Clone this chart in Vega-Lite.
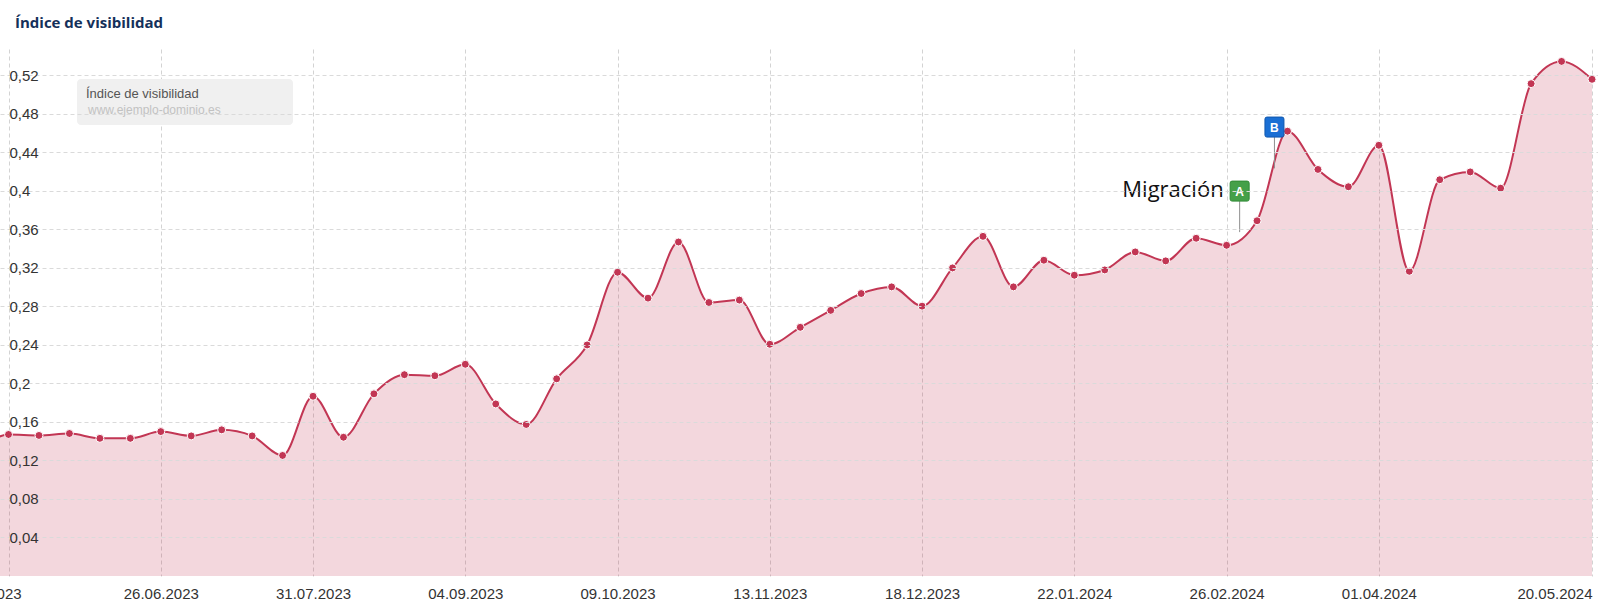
{
  "$schema": "https://vega.github.io/schema/vega-lite/v6.json",
  "width": 1598,
  "height": 527,
  "autosize": {"type": "none"},
  "padding": {"left": 0, "top": 49, "right": 0, "bottom": 31},
  "background": "white",
  "config": {"view": {"stroke": null}, "font": "Liberation Sans"},
  "title": {
    "text": "Índice de visibilidad",
    "anchor": "start",
    "frame": "group",
    "dx": 15,
    "offset": 6,
    "baseline": "alphabetic",
    "font": "Open Sans",
    "fontSize": 15,
    "fontWeight": 700,
    "color": "#14305a"
  },
  "datasets": {
    "serie": [
      {"fecha": "2023-05-15", "valor": 0.128, "serie": "www.ejemplo-dominio.es"},
      {"fecha": "2023-05-22", "valor": 0.147, "serie": "www.ejemplo-dominio.es"},
      {"fecha": "2023-05-29", "valor": 0.146, "serie": "www.ejemplo-dominio.es"},
      {"fecha": "2023-06-05", "valor": 0.148, "serie": "www.ejemplo-dominio.es"},
      {"fecha": "2023-06-12", "valor": 0.143, "serie": "www.ejemplo-dominio.es"},
      {"fecha": "2023-06-19", "valor": 0.143, "serie": "www.ejemplo-dominio.es"},
      {"fecha": "2023-06-26", "valor": 0.150, "serie": "www.ejemplo-dominio.es"},
      {"fecha": "2023-07-03", "valor": 0.1455, "serie": "www.ejemplo-dominio.es"},
      {"fecha": "2023-07-10", "valor": 0.1518, "serie": "www.ejemplo-dominio.es"},
      {"fecha": "2023-07-17", "valor": 0.1455, "serie": "www.ejemplo-dominio.es"},
      {"fecha": "2023-07-24", "valor": 0.1252, "serie": "www.ejemplo-dominio.es"},
      {"fecha": "2023-07-31", "valor": 0.1867, "serie": "www.ejemplo-dominio.es"},
      {"fecha": "2023-08-07", "valor": 0.1441, "serie": "www.ejemplo-dominio.es"},
      {"fecha": "2023-08-14", "valor": 0.1892, "serie": "www.ejemplo-dominio.es"},
      {"fecha": "2023-08-21", "valor": 0.2091, "serie": "www.ejemplo-dominio.es"},
      {"fecha": "2023-08-28", "valor": 0.208, "serie": "www.ejemplo-dominio.es"},
      {"fecha": "2023-09-04", "valor": 0.2199, "serie": "www.ejemplo-dominio.es"},
      {"fecha": "2023-09-11", "valor": 0.1787, "serie": "www.ejemplo-dominio.es"},
      {"fecha": "2023-09-18", "valor": 0.1574, "serie": "www.ejemplo-dominio.es"},
      {"fecha": "2023-09-25", "valor": 0.2048, "serie": "www.ejemplo-dominio.es"},
      {"fecha": "2023-10-02", "valor": 0.24, "serie": "www.ejemplo-dominio.es"},
      {"fecha": "2023-10-09", "valor": 0.3155, "serie": "www.ejemplo-dominio.es"},
      {"fecha": "2023-10-16", "valor": 0.2886, "serie": "www.ejemplo-dominio.es"},
      {"fecha": "2023-10-23", "valor": 0.3469, "serie": "www.ejemplo-dominio.es"},
      {"fecha": "2023-10-30", "valor": 0.2841, "serie": "www.ejemplo-dominio.es"},
      {"fecha": "2023-11-06", "valor": 0.2866, "serie": "www.ejemplo-dominio.es"},
      {"fecha": "2023-11-13", "valor": 0.2407, "serie": "www.ejemplo-dominio.es"},
      {"fecha": "2023-11-20", "valor": 0.2583, "serie": "www.ejemplo-dominio.es"},
      {"fecha": "2023-11-27", "valor": 0.2759, "serie": "www.ejemplo-dominio.es"},
      {"fecha": "2023-12-04", "valor": 0.2934, "serie": "www.ejemplo-dominio.es"},
      {"fecha": "2023-12-11", "valor": 0.3003, "serie": "www.ejemplo-dominio.es"},
      {"fecha": "2023-12-18", "valor": 0.2803, "serie": "www.ejemplo-dominio.es"},
      {"fecha": "2023-12-25", "valor": 0.32, "serie": "www.ejemplo-dominio.es"},
      {"fecha": "2024-01-01", "valor": 0.3528, "serie": "www.ejemplo-dominio.es"},
      {"fecha": "2024-01-08", "valor": 0.3003, "serie": "www.ejemplo-dominio.es"},
      {"fecha": "2024-01-15", "valor": 0.328, "serie": "www.ejemplo-dominio.es"},
      {"fecha": "2024-01-22", "valor": 0.3124, "serie": "www.ejemplo-dominio.es"},
      {"fecha": "2024-01-29", "valor": 0.3179, "serie": "www.ejemplo-dominio.es"},
      {"fecha": "2024-02-05", "valor": 0.3366, "serie": "www.ejemplo-dominio.es"},
      {"fecha": "2024-02-12", "valor": 0.3273, "serie": "www.ejemplo-dominio.es"},
      {"fecha": "2024-02-19", "valor": 0.3508, "serie": "www.ejemplo-dominio.es"},
      {"fecha": "2024-02-26", "valor": 0.3435, "serie": "www.ejemplo-dominio.es"},
      {"fecha": "2024-03-04", "valor": 0.369, "serie": "www.ejemplo-dominio.es"},
      {"fecha": "2024-03-11", "valor": 0.462, "serie": "www.ejemplo-dominio.es"},
      {"fecha": "2024-03-18", "valor": 0.4223, "serie": "www.ejemplo-dominio.es"},
      {"fecha": "2024-03-25", "valor": 0.4043, "serie": "www.ejemplo-dominio.es"},
      {"fecha": "2024-04-01", "valor": 0.4474, "serie": "www.ejemplo-dominio.es"},
      {"fecha": "2024-04-08", "valor": 0.3165, "serie": "www.ejemplo-dominio.es"},
      {"fecha": "2024-04-15", "valor": 0.4116, "serie": "www.ejemplo-dominio.es"},
      {"fecha": "2024-04-22", "valor": 0.4197, "serie": "www.ejemplo-dominio.es"},
      {"fecha": "2024-04-29", "valor": 0.4028, "serie": "www.ejemplo-dominio.es"},
      {"fecha": "2024-05-06", "valor": 0.5114, "serie": "www.ejemplo-dominio.es"},
      {"fecha": "2024-05-13", "valor": 0.5345, "serie": "www.ejemplo-dominio.es"},
      {"fecha": "2024-05-20", "valor": 0.5159, "serie": "www.ejemplo-dominio.es"}
    ],
    "banderas": [
      {"fecha": "2024-02-29", "caja": 0.3998, "sup": 0.3894, "inf": 0.3572, "letra": "A", "etiqueta": "Migración"},
      {"fecha": "2024-03-08", "caja": 0.4663, "sup": 0.4559, "inf": 0.4234, "letra": "B", "etiqueta": ""}
    ]
  },
  "layer": [
    {
      "data": {"name": "serie"},
      "mark": {"type": "area", "interpolate": "monotone", "fillOpacity": 0.2, "clip": true},
      "encoding": {
        "x": {
          "field": "fecha",
          "type": "temporal",
          "scale": {
            "type": "utc",
            "domain": [
              {"year": 2023, "month": 5, "date": 20, "hours": 1, "utc": true},
              {"year": 2024, "month": 5, "date": 21, "hours": 9, "utc": true}
            ]
          },
          "axis": {
            "title": null,
            "values": [
              {"year": 2023, "month": 5, "date": 22, "utc": true},
              {"year": 2023, "month": 6, "date": 26, "utc": true},
              {"year": 2023, "month": 7, "date": 31, "utc": true},
              {"year": 2023, "month": 9, "date": 4, "utc": true},
              {"year": 2023, "month": 10, "date": 9, "utc": true},
              {"year": 2023, "month": 11, "date": 13, "utc": true},
              {"year": 2023, "month": 12, "date": 18, "utc": true},
              {"year": 2024, "month": 1, "date": 22, "utc": true},
              {"year": 2024, "month": 2, "date": 26, "utc": true},
              {"year": 2024, "month": 4, "date": 1, "utc": true},
              {"year": 2024, "month": 5, "date": 20, "utc": true}
            ],
            "format": "%d.%m.%Y",
            "labelFlush": false,
            "labelOverlap": false,
            "labelBound": false,
            "labelAlign": {"condition": {"test": "datum.label == '20.05.2024'", "value": "right"}, "value": "center"},
            "labelOffset": {"condition": {"test": "datum.label == '22.05.2023'", "value": -25}, "value": 0},
            "labelBaseline": "middle",
            "labelPadding": 17,
            "labelFont": "Liberation Sans",
            "labelFontSize": 15,
            "labelColor": "#333333",
            "ticks": false,
            "tickSize": 0,
            "domain": false,
            "grid": true,
            "gridDash": [4, 3],
            "gridColor": "#d3d3d3"
          }
        },
        "y": {
          "field": "valor",
          "type": "quantitative",
          "scale": {"domain": [0, 0.5474], "nice": false, "zero": true},
          "axis": {
            "title": null,
            "values": [0.04, 0.08, 0.12, 0.16, 0.2, 0.24, 0.28, 0.32, 0.36, 0.4, 0.44, 0.48, 0.52],
            "labelExpr": "replace(format(datum.value, '.2~f'), '.', ',')",
            "labelAlign": "left",
            "labelBaseline": "middle",
            "labelPadding": -9,
            "labelFont": "Liberation Sans",
            "labelFontSize": 15,
            "labelColor": "#333333",
            "labelOverlap": false,
            "labelBound": false,
            "ticks": false,
            "tickSize": 0,
            "domain": false,
            "grid": true,
            "gridDash": [4, 3],
            "gridColor": "#dadada",
            "zindex": 1
          }
        },
        "color": {
          "field": "serie",
          "type": "nominal",
          "scale": {"range": ["#c23654"]},
          "legend": {
            "orient": "none",
            "legendX": 77,
            "legendY": 30,
            "title": "Índice de visibilidad",
            "titleFont": "Liberation Sans",
            "titleFontSize": 13,
            "titleFontWeight": "normal",
            "titleColor": "#555555",
            "titlePadding": 3,
            "fillColor": "#f0f0f0",
            "cornerRadius": 4,
            "padding": 9,
            "symbolSize": 0,
            "symbolOpacity": 0,
            "symbolStrokeWidth": 0,
            "labelOffset": -10,
            "labelFont": "Liberation Sans",
            "labelFontSize": 12,
            "labelColor": "#c2c2c2",
            "labelLimit": 500,
            "labelExpr": "datum.label + '\u2800\u2800\u2800\u2800\u2800\u2800\u2800'"
          }
        }
      }
    },
    {
      "data": {"name": "serie"},
      "mark": {"type": "line", "interpolate": "monotone", "strokeWidth": 2, "clip": true},
      "encoding": {
        "x": {"field": "fecha", "type": "temporal"},
        "y": {"field": "valor", "type": "quantitative"},
        "color": {"field": "serie", "type": "nominal"}
      }
    },
    {
      "data": {"name": "serie"},
      "mark": {"type": "point", "filled": true, "size": 64, "opacity": 1, "stroke": "white", "strokeWidth": 1, "clip": true},
      "encoding": {
        "x": {"field": "fecha", "type": "temporal"},
        "y": {"field": "valor", "type": "quantitative"},
        "color": {"field": "serie", "type": "nominal"}
      }
    },
    {
      "data": {"name": "banderas"},
      "mark": {"type": "rule", "color": "#8f8f8f", "strokeWidth": 1},
      "encoding": {
        "x": {"field": "fecha", "type": "temporal"},
        "y": {"field": "sup", "type": "quantitative"},
        "y2": {"field": "inf"}
      }
    },
    {
      "data": {"name": "banderas"},
      "mark": {
        "type": "point",
        "filled": true,
        "opacity": 1,
        "size": 400,
        "strokeWidth": 1,
        "shape": "M-0.75,-1H0.75Q0.95,-1 0.95,-0.8V0.8Q0.95,1 0.75,1H-0.75Q-0.95,1 -0.95,0.8V-0.8Q-0.95,-1 -0.75,-1Z"
      },
      "encoding": {
        "x": {"field": "fecha", "type": "temporal"},
        "y": {"field": "caja", "type": "quantitative"},
        "fill": {"field": "letra", "type": "nominal", "scale": {"domain": ["A", "B"], "range": ["#45a049", "#1a6fd4"]}, "legend": null},
        "stroke": {"field": "letra", "type": "nominal", "scale": {"domain": ["A", "B"], "range": ["#2f8a35", "#1158ae"]}, "legend": null}
      }
    },
    {
      "data": {"name": "banderas"},
      "mark": {"type": "text", "color": "white", "font": "Liberation Sans", "fontSize": 12, "fontWeight": "bold", "align": "center", "baseline": "middle", "dy": 1},
      "encoding": {
        "x": {"field": "fecha", "type": "temporal"},
        "y": {"field": "caja", "type": "quantitative"},
        "text": {"field": "letra"}
      }
    },
    {
      "data": {"name": "banderas"},
      "transform": [{"filter": "datum.etiqueta != ''"}],
      "mark": {"type": "text", "color": "#111111", "font": "Open Sans", "fontSize": 22, "align": "right", "baseline": "alphabetic", "dx": -16, "dy": 6},
      "encoding": {
        "x": {"field": "fecha", "type": "temporal"},
        "y": {"field": "caja", "type": "quantitative"},
        "text": {"field": "etiqueta"}
      }
    },
    {
      "mark": {"type": "rule", "color": "#e4e4e4", "strokeWidth": 1},
      "encoding": {"y": {"datum": 0.5474}}
    }
  ]
}
